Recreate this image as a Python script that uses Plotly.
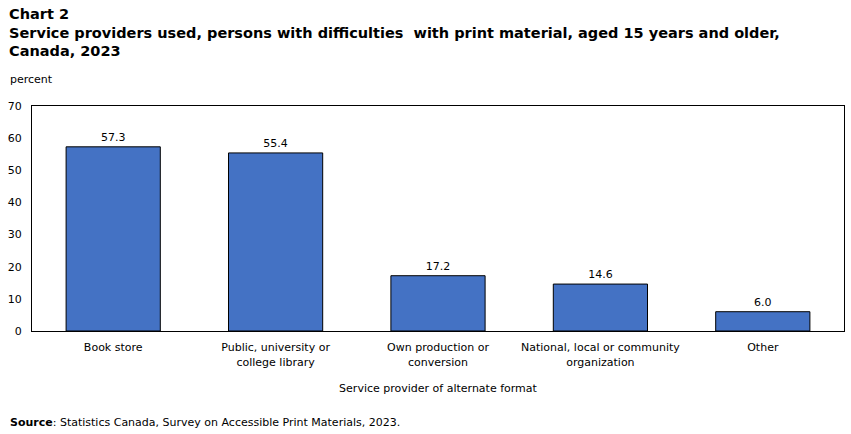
import plotly.graph_objects as go

categories = ["Book store", "Public, university or<br>college library", "Own production or<br>conversion",
              "National, local or community<br>organization", "Other"]
values = [57.3, 55.4, 17.2, 14.6, 6.0]
y_ticks = [0, 10, 20, 30, 40, 50, 60, 70]
title_lines = ["Chart 2",
               "Service providers used, persons with difficulties  with print material, aged 15 years and older,",
               "Canada, 2023"]

W, H = 851, 434
L, R, T, B = 32, 7, 106, 103
PW, PH = W - L - R, H - T - B


def px_x(x):
    return (x - L) / PW


def px_y(y):
    return ((H - y) - B) / PH


fig = go.Figure()
fig.add_trace(go.Bar(
    x=categories, y=values,
    marker=dict(color="#4472C4", line=dict(color="black", width=1)),
    text=[f"{v:.1f}" for v in values], textposition="outside",
    textfont=dict(family="DejaVu Sans", size=11, color="black"),
    cliponaxis=False,
))

annotations = []
for i, (line, yc) in enumerate(zip(title_lines, [14, 33, 51])):
    annotations.append(dict(
        text=f"<b>{line}</b>", x=px_x(7), y=px_y(yc), xref="paper", yref="paper",
        showarrow=False, xanchor="left", yanchor="middle",
        font=dict(family="DejaVu Sans", size=14.5, color="black"),
    ))
annotations.append(dict(text="percent", x=px_x(8), y=px_y(80), xref="paper", yref="paper",
                        showarrow=False, xanchor="left", yanchor="middle", font=dict(size=11)))
annotations.append(dict(text="<b>Source</b>: Statistics Canada, Survey on Accessible Print Materials, 2023.",
                        x=px_x(8), y=px_y(422), xref="paper", yref="paper", showarrow=False,
                        xanchor="left", yanchor="middle", font=dict(size=11)))

fig.update_layout(
    width=W, height=H,
    margin=dict(l=L, r=R, t=T, b=B),
    paper_bgcolor="white", plot_bgcolor="white",
    bargap=0.42,
    showlegend=False,
    font=dict(family="DejaVu Sans", size=11, color="black"),
    xaxis=dict(
        showline=True, linecolor="black", linewidth=1, mirror=True,
        showgrid=False, ticks="", tickfont=dict(size=11), ticklabelstandoff=6,
        title=dict(text="Service provider of alternate format", font=dict(size=11), standoff=16),
    ),
    yaxis=dict(
        range=[0, 70], tickvals=y_ticks,
        showline=True, linecolor="black", linewidth=1, mirror=True,
        showgrid=False, zeroline=False, ticks="", tickfont=dict(size=11), ticklabelstandoff=7,
    ),
    annotations=annotations,
)

fig.write_html("out.html")
